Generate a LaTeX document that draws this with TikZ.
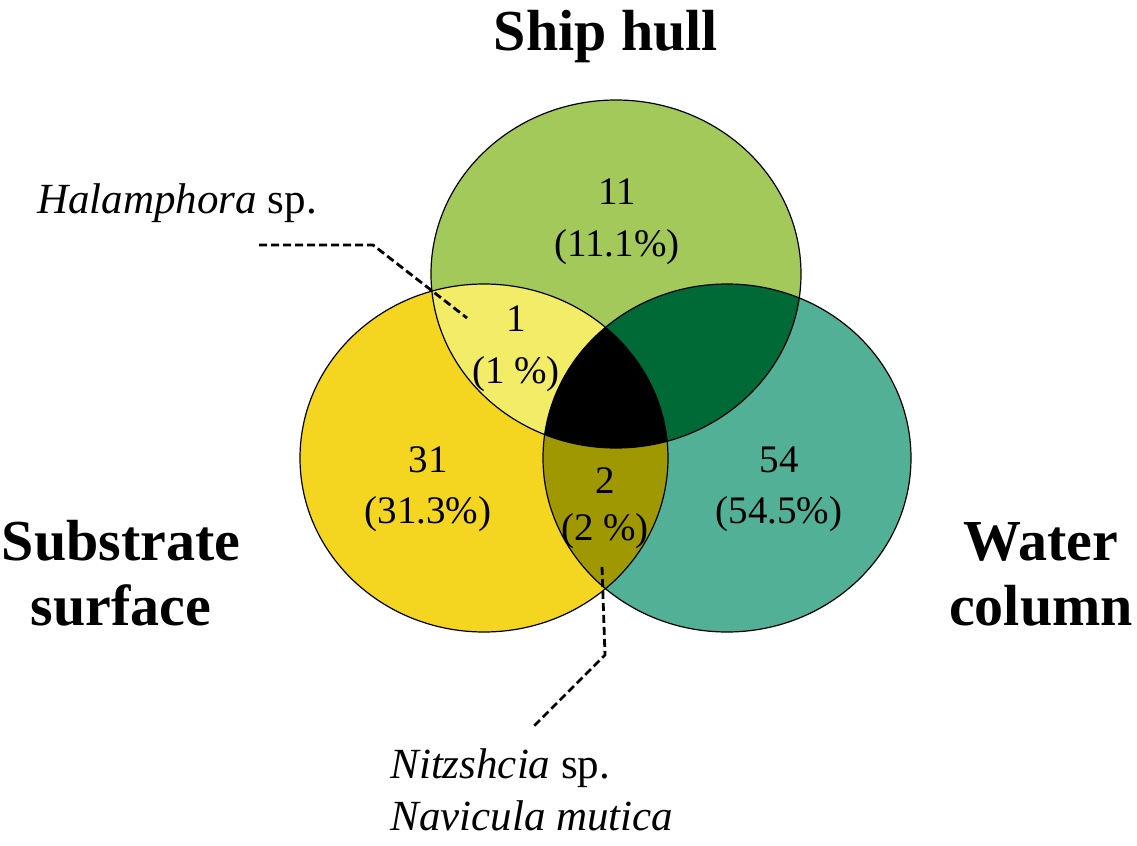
\documentclass[tikz,border=0pt]{standalone}
\usepackage{fontspec}
\setmainfont{Liberation Serif}
\definecolor{hullgreen}{HTML}{A4C95B}
\definecolor{subyellow}{HTML}{F4D621}
\definecolor{watteal}{HTML}{52B096}
\definecolor{hsyellow}{HTML}{F3EC66}
\definecolor{hwgreen}{HTML}{006A37}
\definecolor{swolive}{HTML}{A09800}
\def\ellH{(616,274) ellipse [x radius=92.5pt,y radius=87pt]}
\def\ellS{(484,458) ellipse [x radius=92pt,y radius=87pt]}
\def\ellW{(727,458) ellipse [x radius=92pt,y radius=87pt]}
\begin{document}
\begin{tikzpicture}[x=0.5pt,y=-0.5pt,
  setlabel/.style={font=\fontsize{29}{32}\selectfont\bfseries, anchor=base, inner sep=0pt},
  count/.style={font=\fontsize{19.5}{24}\selectfont, anchor=base, inner sep=0pt},
  species/.style={font=\fontsize{21.5}{26}\selectfont, anchor=base west, inner sep=0pt},
  leader/.style={line width=1.4pt, dash pattern=on 4pt off 2pt},
  outline/.style={draw=black, line width=0.6pt}]
\useasboundingbox (0,0) rectangle (1137,846);
% base fills
\fill[hullgreen] \ellH;
\fill[subyellow] \ellS;
\fill[watteal] \ellW;
% pairwise overlaps
\begin{scope}\clip \ellH; \fill[hsyellow] \ellS; \end{scope}
\begin{scope}\clip \ellH; \fill[hwgreen] \ellW; \end{scope}
\begin{scope}\clip \ellS; \fill[swolive] \ellW; \end{scope}
\begin{scope}\clip \ellH; \clip \ellS; \fill[black] \ellW; \end{scope}
% outlines
\draw[outline] \ellH;
\draw[outline] \ellS;
\draw[outline] \ellW;
% set labels
\node[setlabel] (hull) at (606,50) {Ship hull};
\node[setlabel] (sub1) at (121,560) {Substrate};
\node[setlabel] (sub2) at (121,625) {surface};
\node[setlabel] (wat1) at (1041,560) {Water};
\node[setlabel] (wat2) at (1041,625) {column};
% counts
\node[count] (h1) at (617,204) {11};
\node[count] (h2) at (617,256) {(11.1\%)};
\node[count] (hs1) at (516,331) {1};
\node[count] (hs2) at (516,383) {(1 \%)};
\node[count] (s1) at (428,472) {31};
\node[count] (s2) at (428,523) {(31.3\%)};
\node[count] (sw1) at (605,493) {2};
\node[count] (sw2) at (605,540) {(2 \%)};
\node[count] (w1) at (779,472) {54};
\node[count] (w2) at (779,523) {(54.5\%)};
% species labels
\node[species] (hala) at (37,213) {\textit{Halamphora} sp.};
\node[species] (nitz) at (390,778) {\textit{Nitzshcia} sp.};
\node[species] (navi) at (390,830) {\textit{Navicula mutica}};
% leaders
\coordinate (la) at (259,245);
\coordinate (lb) at (373,245);
\coordinate (lc) at (467,318);
\draw[leader] (la) -- (lb) -- (lc);
\coordinate (na) at (602,567);
\coordinate (nb) at (605,655);
\coordinate (nc) at (534,726);
\draw[leader] (na) -- (nb) -- (nc);
\end{tikzpicture}
\end{document}
